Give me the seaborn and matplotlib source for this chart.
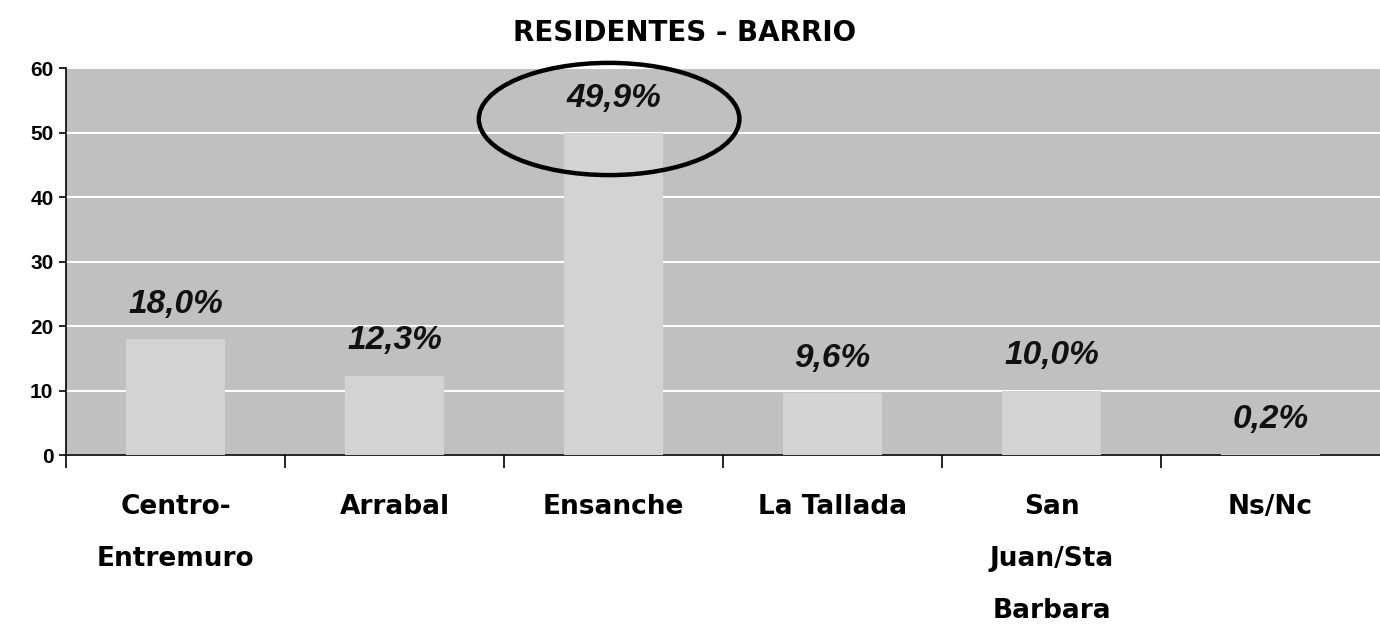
import matplotlib
matplotlib.use("Agg")
import matplotlib.pyplot as plt
from matplotlib.patches import Ellipse
import seaborn as sns
import pandas as pd

barrios = ["Centro-\nEntremuro", "Arrabal", "Ensanche", "La Tallada", "San\nJuan/Sta\nBarbara", "Ns/Nc"]
porcentajes = [18.0, 12.3, 49.9, 9.6, 10.0, 0.2]
etiquetas = ["18,0%", "12,3%", "49,9%", "9,6%", "10,0%", "0,2%"]
y_ticks = [0, 10, 20, 30, 40, 50, 60]

df = pd.DataFrame({"barrio": barrios, "pct": porcentajes})

sns.set_style("white")
plt.rcParams["font.family"] = ["DejaVu Sans"]
plt.rcParams["text.color"] = "black"
plt.rcParams["xtick.color"] = "black"
plt.rcParams["ytick.color"] = "black"

fig = plt.figure(figsize=(13.8, 6.27), dpi=100)
ax = fig.add_axes([0.0478, 0.2743, 0.9522, 0.6172])
ax.set_facecolor("#C0C0C0")

sns.barplot(data=df, x="barrio", y="pct", color="#D3D3D3", saturation=1,
            width=0.45, linewidth=0, edgecolor="none", ax=ax, zorder=3)

ax.set_ylim(0, 60)
ax.set_xlim(-0.5, 5.5)
ax.set_yticks(y_ticks)
ax.set_yticklabels([str(v) for v in y_ticks], fontsize=15, fontweight="bold",
                   family="Liberation Sans")
ax.yaxis.grid(True, color="white", linewidth=1.5, zorder=1)
ax.set_axisbelow(True)

# tick marks between categories, labels at centres
ax.set_xticks([i - 0.5 for i in range(len(barrios))])
ax.set_xticklabels([])
ax.set_xticks(range(len(barrios)), minor=True)
ax.set_xticklabels(barrios, minor=True, fontsize=19, fontweight="bold",
                   linespacing=2.3, va="top")
ax.tick_params(axis="x", which="major", bottom=True, length=9, width=1.2,
               direction="out")
ax.tick_params(axis="x", which="minor", bottom=True, length=0, pad=28)
ax.tick_params(axis="y", left=True, length=5, width=1.2, direction="out", pad=4)
ax.set_xlabel("")
ax.set_ylabel("")

for s in ["top", "right"]:
    ax.spines[s].set_visible(False)
for s in ["left", "bottom"]:
    ax.spines[s].set_color("black")
    ax.spines[s].set_linewidth(1.2)

for i, (v, t) in enumerate(zip(porcentajes, etiquetas)):
    ax.annotate(t, xy=(i, v), xytext=(0, 25), textcoords="offset points",
                ha="center", va="center", fontsize=24, fontweight="bold",
                fontstyle="italic", family="Liberation Sans", color="#111111")

# highlight the largest value
imax = porcentajes.index(max(porcentajes))
ell = Ellipse((imax - 0.02, 52.1), width=1.19, height=17.4, fill=False,
              edgecolor="black", linewidth=3.2, clip_on=False, zorder=5)
ax.add_patch(ell)

fig.text(0.496, 0.948, "RESIDENTES - BARRIO", ha="center", va="center",
         fontsize=20, fontweight="bold")

fig.savefig("out.png", dpi=100)
